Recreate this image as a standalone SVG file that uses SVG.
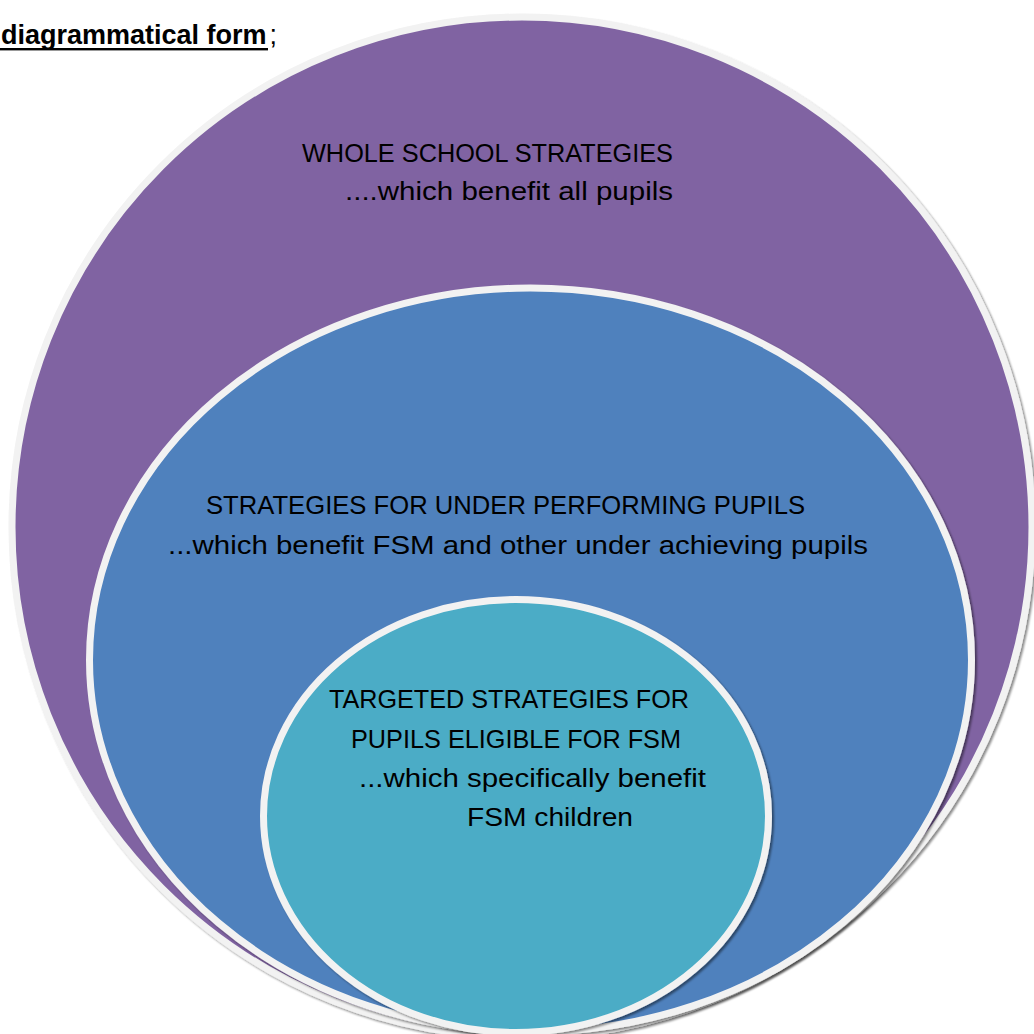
<svg xmlns="http://www.w3.org/2000/svg" width="1034" height="1034" viewBox="0 0 1034 1034">
<style>
.ring{stroke:#f2f2f2;stroke-width:7;filter:url(#sh)}
.t{font-family:"Liberation Sans",Arial,sans-serif;font-size:26px;fill:#000}
</style>
<defs>
<filter id="sh" x="-5%" y="-5%" width="110%" height="110%">
<feDropShadow dx="2" dy="2" stdDeviation="1" flood-color="#000" flood-opacity="0.45"/>
</filter>
</defs>
<rect width="1034" height="1034" fill="#fff"/>
<g id="title">
<rect x="0" y="48" width="268" height="2.4" fill="#000"/>
<text x="1" y="44" font-family="'Liberation Sans',Arial,sans-serif" font-size="27" font-weight="bold">diagrammatical form<tspan font-weight="normal" dx="3">;</tspan></text>
</g>
<g id="whole-school">
<ellipse class="ring" cx="522" cy="527" rx="510" ry="510" fill="#8064a2"/>
<text class="t" x="302" y="162" textLength="371" lengthAdjust="spacingAndGlyphs">WHOLE SCHOOL STRATEGIES</text>
<text class="t" x="345" y="200" textLength="328" lengthAdjust="spacingAndGlyphs">....which benefit all pupils</text>
</g>
<g id="under-performing">
<ellipse class="ring" cx="530.5" cy="660" rx="441" ry="372" fill="#4f81bd"/>
<text class="t" x="206" y="514" textLength="599" lengthAdjust="spacingAndGlyphs">STRATEGIES FOR UNDER PERFORMING PUPILS</text>
<text class="t" x="168" y="554" textLength="700" lengthAdjust="spacingAndGlyphs">...which benefit FSM and other under achieving pupils</text>
</g>
<g id="targeted">
<ellipse class="ring" cx="516" cy="816" rx="252.5" ry="216.5" fill="#4bacc6"/>
<text class="t" x="329" y="708" textLength="360" lengthAdjust="spacingAndGlyphs">TARGETED STRATEGIES FOR</text>
<text class="t" x="351" y="748" textLength="330" lengthAdjust="spacingAndGlyphs">PUPILS ELIGIBLE FOR FSM</text>
<text class="t" x="359" y="787" textLength="347" lengthAdjust="spacingAndGlyphs">...which specifically benefit</text>
<text class="t" x="467" y="826" textLength="166" lengthAdjust="spacingAndGlyphs">FSM children</text>
</g>
<g id="connectors"/>
</svg>
